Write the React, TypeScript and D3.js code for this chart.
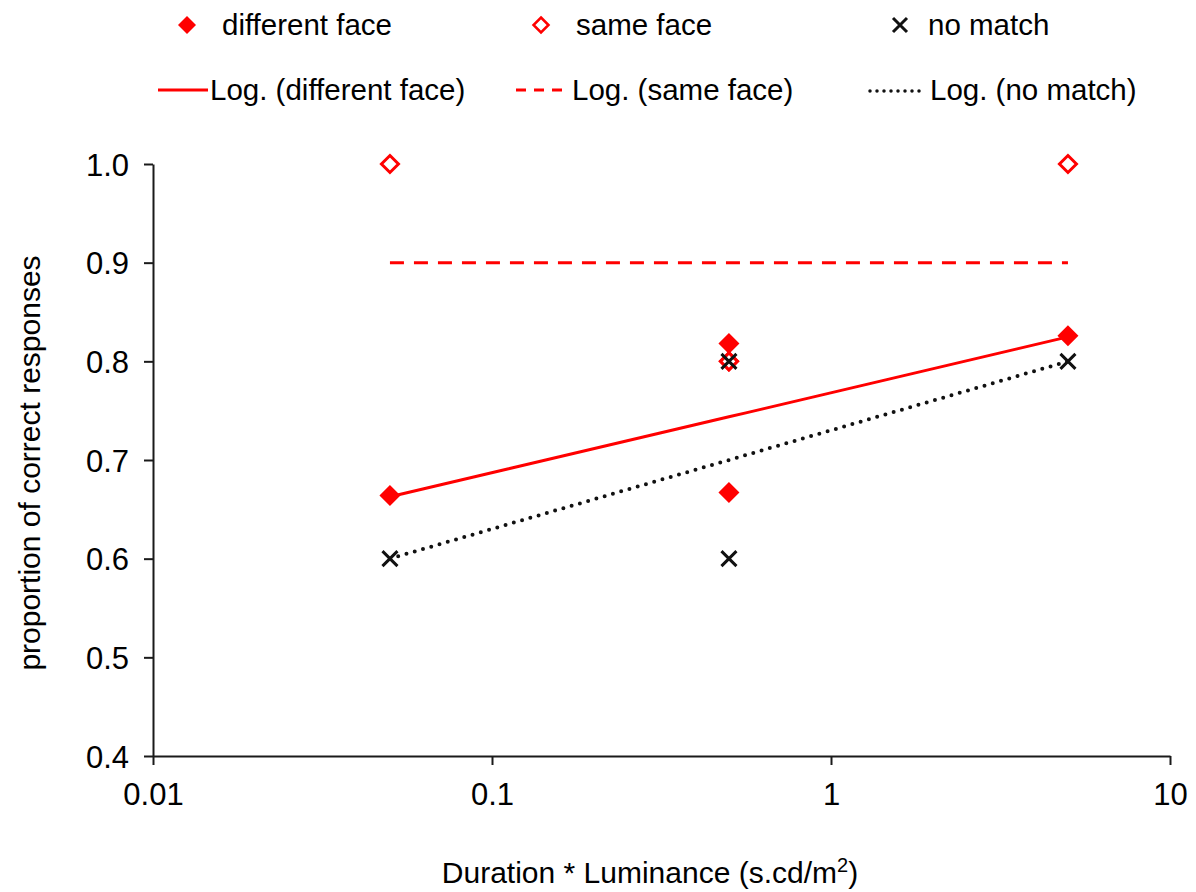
import React, { useEffect, useRef } from "react";
import * as d3 from "d3";

// duration * luminance levels (log axis)
const levels = [0.05, 0.5, 0.5, 5];
const differentFace = [0.664, 0.818, 0.667, 0.826];
const sameFace = [1.0, 0.8, 0.8, 1.0];
const noMatch = [0.6, 0.8, 0.6, 0.8];

const xTicks = [0.01, 0.1, 1, 10];
const xTickLabels = ["0.01", "0.1", "1", "10"];
const yTicks = [0.4, 0.5, 0.6, 0.7, 0.8, 0.9, 1.0];

const RED = "#ff0000";
const FONT = "'Liberation Sans', Arial, sans-serif";

// least squares fit of y = a + b*ln(x), like a spreadsheet log trendline
function logFit(xs: number[], ys: number[]) {
  const lx = xs.map(x => Math.log(x));
  const mx = d3.mean(lx) as number;
  const my = d3.mean(ys) as number;
  let num = 0, den = 0;
  lx.forEach((v, i) => { num += (v - mx) * (ys[i] - my); den += (v - mx) * (v - mx) });
  const b = num / den;
  const a = my - b * mx;
  return (x: number) => a + b * Math.log(x);
}

function drawChart(node: SVGSVGElement) {
  const width = 1196, height = 892;
  const margin = { top: 164, right: 26, bottom: 136, left: 153 };

  const svg = d3.select(node);
  svg.selectAll("*").remove();
  svg.attr("width", width).attr("height", height)
    .style("font-family", FONT);

  const x = d3.scaleLog().domain([0.01, 10]).range([margin.left, width - margin.right]);
  const y = d3.scaleLinear().domain([0.4, 1.0]).range([height - margin.bottom, margin.top]);

  // axes
  const xAxis = svg.append("g")
    .attr("transform", `translate(0,${y(0.4)})`)
    .call(d3.axisBottom(x).tickValues(xTicks).tickSize(9).tickSizeOuter(0)
      .tickFormat((d, i) => xTickLabels[i]));
  const yAxis = svg.append("g")
    .attr("transform", `translate(${x(0.01)},0)`)
    .call(d3.axisLeft(y).tickValues(yTicks).tickSize(9).tickSizeOuter(0)
      .tickFormat(d3.format(".1f")));
  [xAxis, yAxis].forEach(g => {
    g.selectAll("path, line").attr("stroke", "#1a1a1a").attr("stroke-width", 2);
    g.selectAll("text").attr("fill", "#000").style("font-size", "31px").style("font-family", FONT);
  });
  xAxis.selectAll("text").attr("y", 27).attr("dy", "0.71em");
  yAxis.selectAll("text").attr("x", -24).attr("dy", "0.36em");

  // trendlines over the data range
  const xs = [0.05, 5];
  const trend = (vals: number[]) => {
    const f = logFit(levels, vals);
    const pts = d3.range(0, 41).map(i => {
      const v = Math.pow(10, Math.log10(xs[0]) + (Math.log10(xs[1]) - Math.log10(xs[0])) * i / 40);
      return [x(v), y(f(v))] as [number, number];
    });
    return d3.line()(pts) as string;
  };

  svg.append("path").attr("d", trend(sameFace))
    .attr("fill", "none").attr("stroke", RED).attr("stroke-width", 3)
    .attr("stroke-dasharray", "14 10");
  svg.append("path").attr("d", trend(noMatch))
    .attr("fill", "none").attr("stroke", "#111").attr("stroke-width", 4)
    .attr("stroke-linecap", "round").attr("stroke-dasharray", "0 8.6");
  svg.append("path").attr("d", trend(differentFace))
    .attr("fill", "none").attr("stroke", RED).attr("stroke-width", 3);

  const diamond = (cx: number, cy: number, r: number) =>
    `M${cx},${cy - r}L${cx + r},${cy}L${cx},${cy + r}L${cx - r},${cy}Z`;
  const cross = (cx: number, cy: number, r: number) =>
    `M${cx - r},${cy - r}L${cx + r},${cy + r}M${cx - r},${cy + r}L${cx + r},${cy - r}`;

  // markers
  svg.append("g").selectAll("path")
    .data(levels.map((l, i) => [l, sameFace[i]]))
    .enter().append("path")
    .attr("d", d => diamond(x(d[0]), y(d[1]), 8.5))
    .attr("fill", "#fff").attr("stroke", RED).attr("stroke-width", 3);
  svg.append("g").selectAll("path")
    .data(levels.map((l, i) => [l, differentFace[i]]))
    .enter().append("path")
    .attr("d", d => diamond(x(d[0]), y(d[1]), 10.5))
    .attr("fill", RED);
  svg.append("g").selectAll("path")
    .data(levels.map((l, i) => [l, noMatch[i]]))
    .enter().append("path")
    .attr("d", d => cross(x(d[0]), y(d[1]), 7.5))
    .attr("stroke", "#111").attr("stroke-width", 3).attr("fill", "none");

  // legend
  const lg = svg.append("g").style("font-size", "29.5px");
  lg.append("path").attr("d", diamond(187, 25, 9)).attr("fill", RED);
  lg.append("text").attr("x", 222).attr("y", 35).text("different face");
  lg.append("path").attr("d", diamond(541, 25, 7.5)).attr("fill", "#fff").attr("stroke", RED).attr("stroke-width", 2.5);
  lg.append("text").attr("x", 576).attr("y", 35).text("same face");
  lg.append("path").attr("d", cross(900, 25, 7)).attr("stroke", "#111").attr("stroke-width", 3);
  lg.append("text").attr("x", 928).attr("y", 35).text("no match");

  lg.append("line").attr("x1", 158).attr("x2", 208).attr("y1", 90).attr("y2", 90)
    .attr("stroke", RED).attr("stroke-width", 3);
  lg.append("text").attr("x", 210).attr("y", 100).text("Log. (different face)");
  lg.append("line").attr("x1", 516).attr("x2", 568).attr("y1", 90).attr("y2", 90)
    .attr("stroke", RED).attr("stroke-width", 3).attr("stroke-dasharray", "10 8");
  lg.append("text").attr("x", 572).attr("y", 100).text("Log. (same face)");
  lg.append("line").attr("x1", 870).attr("x2", 926).attr("y1", 91).attr("y2", 91)
    .attr("stroke", "#111").attr("stroke-width", 3.5).attr("stroke-linecap", "round")
    .attr("stroke-dasharray", "0 7");
  lg.append("text").attr("x", 930).attr("y", 100).text("Log. (no match)");

  // axis titles
  const xt = svg.append("text").attr("x", 650).attr("y", 883)
    .attr("text-anchor", "middle").style("font-size", "30px");
  xt.append("tspan").text("Duration * Luminance (s.cd/m");
  xt.append("tspan").attr("dy", -11).style("font-size", "20px").text("2");
  xt.append("tspan").attr("dy", 11).text(")");

  svg.append("text")
    .attr("transform", `translate(40,463) rotate(-90)`)
    .attr("text-anchor", "middle").style("font-size", "30px")
    .text("proportion of correct responses");
}

export default function App() {
  const ref = useRef<SVGSVGElement>(null);
  useEffect(() => {
    if (ref.current) drawChart(ref.current);
  });
  return (
    <svg ref={ref} style={{ position: "absolute", left: 0, top: 0, background: "#fff" }} />
  );
}
